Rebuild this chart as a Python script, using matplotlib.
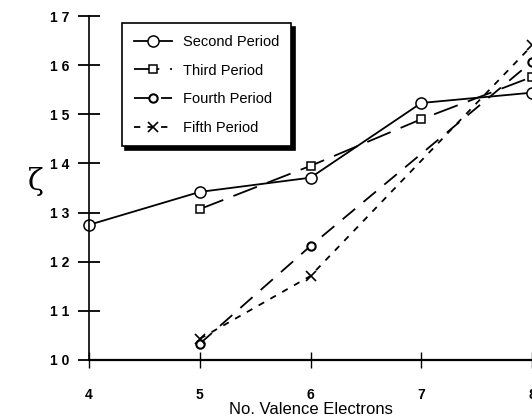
import matplotlib
matplotlib.use('Agg')
import matplotlib.pyplot as plt

# valence electrons vs zeta, per period
x_second = [4, 5, 6, 7, 8]
y_second = [12.75, 13.42, 13.71, 15.23, 15.44]

x_third = [5, 6, 7, 8]
y_third = [13.07, 13.95, 14.90, 15.76]

x_fourth = [5, 6, 8]
y_fourth = [10.33, 12.32, 16.07]

x_fifth = [5, 6, 8]
y_fifth = [10.43, 11.71, 16.40]

x_ticks = [4, 5, 6, 7, 8]
y_ticks = [10, 11, 12, 13, 14, 15, 16, 17]

plt.rcParams['font.family'] = ['Liberation Sans', 'DejaVu Sans']

fig = plt.figure(figsize=(5.32, 4.2), dpi=100)
ax = fig.add_axes([89 / 532, 60 / 420, 443 / 532, 344 / 420])

ax.plot(x_second, y_second, color='black', lw=1.3, marker='o', ms=8,
        mfc='white', mec='black', mew=1.1, label='Second Period', clip_on=False)
ax.plot(x_third, y_third, color='black', lw=1.3, dashes=(14, 6), marker='s', ms=6,
        mfc='white', mec='black', mew=1.1, label='Third Period', clip_on=False)
ax.plot(x_fourth, y_fourth, color='black', lw=1.3, dashes=(9, 6), marker='o', ms=6,
        mfc='white', mec='black', mew=1.5, label='Fourth Period', clip_on=False)
ax.plot(x_fifth, y_fifth, color='black', lw=1.3, dashes=(3.5, 4), marker='x', ms=7,
        mec='black', mew=1.2, label='Fifth Period', clip_on=False)

ax.set_xlim(4, 8)
ax.set_ylim(10, 17)
ax.set_xticks(x_ticks)
ax.set_yticks(y_ticks)
ax.set_yticklabels([' '.join(str(v)) for v in y_ticks])

for s in ['top', 'right']:
    ax.spines[s].set_visible(False)
ax.spines['left'].set_linewidth(1.2)
ax.spines['bottom'].set_linewidth(1.6)

ax.tick_params(axis='y', direction='inout', length=16, width=1.3, pad=6,
               labelsize=10)
ax.tick_params(axis='x', direction='inout', length=12, width=1.0, pad=14,
               labelsize=10)
for lab in ax.get_xticklabels() + ax.get_yticklabels():
    lab.set_fontweight('bold')

ax.set_xlabel('No. Valence Electrons', fontsize=12)
ax.xaxis.label.set_va('center')
ax.xaxis.set_label_coords(0.5, -49 / 344)
fig.text(36 / 532, 1 - 182 / 420, 'ζ', fontsize=21, family='DejaVu Serif',
         ha='center', va='center')

leg = ax.legend(loc='upper left', bbox_to_anchor=(0.058, 1.0), fancybox=False,
                shadow={'ox': 2.5, 'oy': -2.5, 'color': 'black', 'alpha': 1},
                edgecolor='black', framealpha=1, fontsize=10.5,
                handlelength=2.6, borderpad=0.8, labelspacing=1.0)
leg.get_frame().set_linewidth(1.2)

fig.savefig('out.png', dpi=100)
